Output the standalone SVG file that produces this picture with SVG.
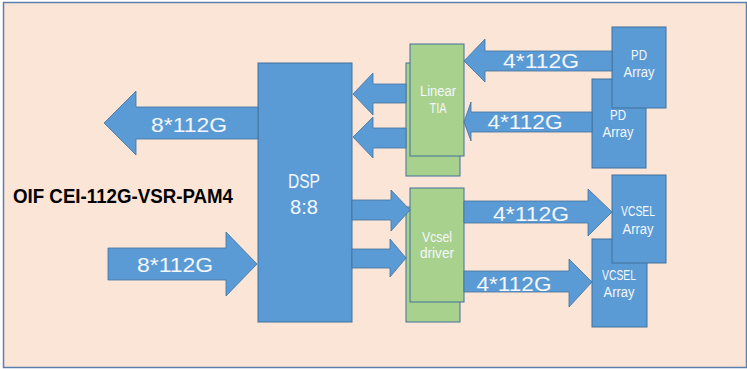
<svg xmlns="http://www.w3.org/2000/svg" width="747" height="369" viewBox="0 0 747 369">
<style>
.bg{fill:#FBE5D6;stroke:#5B7FAE;stroke-width:1.5}
.blue{fill:#5B9BD5;stroke:#41719C;stroke-width:1}
.green{fill:#A9D18E;stroke:#41719C;stroke-width:1}
.arr{fill:#5B9BD5;stroke:#41719C;stroke-width:0.8}
text{font-family:"Liberation Sans",Arial,sans-serif;fill:#F4F7FB;text-anchor:middle}
.big{font-size:21px}
.mid{font-size:20px}
.sm{font-size:14px}
.title{font-size:20px;font-weight:bold;fill:#000000;text-anchor:start}
</style>
<rect class="bg" x="3.5" y="2.5" width="743" height="365"/>
<text class="title" x="13" y="203" textLength="220" lengthAdjust="spacingAndGlyphs">OIF CEI-112G-VSR-PAM4</text>
<g id="dsp">
<rect class="blue" x="258" y="63" width="94" height="259"/>
<text class="mid" x="304" y="188" textLength="32" lengthAdjust="spacingAndGlyphs">DSP</text>
<text class="mid" x="304" y="214" textLength="28" lengthAdjust="spacingAndGlyphs">8:8</text>
</g>
<g id="linear-tia">
<rect class="green" x="406" y="63" width="54" height="113"/>
<rect class="green" x="410" y="44" width="54" height="112"/>
<text class="sm" x="438" y="96" textLength="36" lengthAdjust="spacingAndGlyphs">Linear</text>
<text class="sm" x="438" y="113" textLength="17" lengthAdjust="spacingAndGlyphs">TIA</text>
</g>
<g id="vcsel-driver">
<rect class="green" x="406" y="207" width="54" height="115"/>
<rect class="green" x="410" y="188" width="54" height="114"/>
<text class="sm" x="437" y="242" textLength="30" lengthAdjust="spacingAndGlyphs">Vcsel</text>
<text class="sm" x="437" y="258" textLength="34" lengthAdjust="spacingAndGlyphs">driver</text>
</g>
<g id="pd-array-2">
<rect class="blue" x="592" y="79" width="54" height="89"/>
<text class="sm" x="618" y="120" textLength="16" lengthAdjust="spacingAndGlyphs">PD</text>
<text class="sm" x="618" y="137" textLength="31" lengthAdjust="spacingAndGlyphs">Array</text>
</g>
<g id="pd-array-1">
<rect class="blue" x="612" y="27" width="54" height="81"/>
<text class="sm" x="639" y="60" textLength="16" lengthAdjust="spacingAndGlyphs">PD</text>
<text class="sm" x="639" y="77" textLength="31" lengthAdjust="spacingAndGlyphs">Array</text>
</g>
<g id="vcsel-array-2">
<rect class="blue" x="592" y="239" width="55" height="88"/>
<text class="sm" x="619" y="280" textLength="34" lengthAdjust="spacingAndGlyphs">VCSEL</text>
<text class="sm" x="619" y="297" textLength="31" lengthAdjust="spacingAndGlyphs">Array</text>
</g>
<g id="vcsel-array-1">
<rect class="blue" x="612" y="175" width="54" height="88"/>
<text class="sm" x="638" y="216" textLength="34" lengthAdjust="spacingAndGlyphs">VCSEL</text>
<text class="sm" x="638" y="234" textLength="31" lengthAdjust="spacingAndGlyphs">Array</text>
</g>
<g id="connectors">
<polygon class="arr" points="104,123 136,91 136,107 258,107 258,139 136,139 136,155"/>
<text class="big" x="189" y="132" textLength="76" lengthAdjust="spacingAndGlyphs">8*112G</text>
<polygon class="arr" points="108,248 226,248 226,232 257,264 226,296 226,280 108,280"/>
<text class="big" x="175" y="272" textLength="76" lengthAdjust="spacingAndGlyphs">8*112G</text>
<polygon class="arr" points="353,94 373,73 373,84 406,84 406,103 373,103 373,115"/>
<polygon class="arr" points="353,137 373,117 373,128 406,128 406,148 373,148 373,158"/>
<polygon class="arr" points="464,61 485,39 485,51 612,51 612,71 485,71 485,82"/>
<text class="big" x="541" y="68" textLength="76" lengthAdjust="spacingAndGlyphs">4*112G</text>
<polygon class="arr" points="464,122 471,102 471,112 592,112 592,132 471,132 471,141"/>
<text class="big" x="525" y="129" textLength="75" lengthAdjust="spacingAndGlyphs">4*112G</text>
<polygon class="arr" points="352,200 391,200 391,190 410,210 391,231 391,220 352,220"/>
<polygon class="arr" points="352,249 390,249 390,239 406,258 390,277 390,268 352,268"/>
<polygon class="arr" points="464,201 588,201 588,189 612,212 588,236 588,223 464,223"/>
<text class="big" x="531" y="221" textLength="76" lengthAdjust="spacingAndGlyphs">4*112G</text>
<polygon class="arr" points="464,271 569,271 569,259 592,282 569,307 569,292 464,292"/>
<text class="big" x="514" y="291" textLength="75" lengthAdjust="spacingAndGlyphs">4*112G</text>
</g>
</svg>
